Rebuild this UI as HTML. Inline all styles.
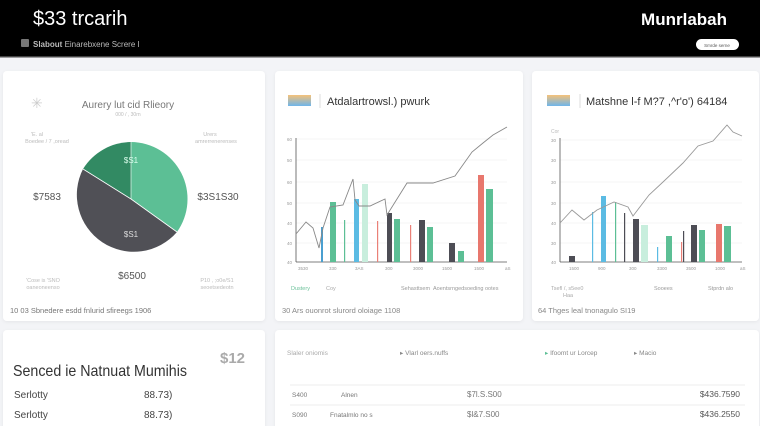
<!DOCTYPE html>
<html><head><meta charset="utf-8"><style>
html,body{margin:0;padding:0;background:#f3f4f7;width:760px;height:426px;overflow:hidden;font-family:"Liberation Sans",sans-serif}
</style></head><body>
<svg width="760" height="426" viewBox="0 0 760 426" xmlns="http://www.w3.org/2000/svg" font-family="Liberation Sans, sans-serif">
<defs>
<linearGradient id="g1" x1="0" y1="0" x2="0" y2="1"><stop offset="0" stop-color="#f5c27a"/><stop offset="1" stop-color="#6fb5ea"/></linearGradient>
<filter id="sh" x="-5%" y="-5%" width="110%" height="110%"><feDropShadow dx="0" dy="1" stdDeviation="1.5" flood-color="#000" flood-opacity="0.06"/></filter>
</defs>
<rect width="760" height="426" fill="#f3f4f7"/>
<rect width="760" height="57" fill="#000"/>
<rect y="56" width="760" height="1.5" fill="#444"/>
<text x="33" y="25" fill="#fff" font-size="20">$33 trcarih</text>
<text x="727" y="25" fill="#fff" font-size="17" font-weight="bold" text-anchor="end">Munrlabah</text>
<rect x="21" y="39" width="8" height="8" fill="#777" rx="1"/>
<text x="33" y="47" fill="#bbb" font-size="8"><tspan font-weight="bold">Slabout</tspan> Einarebxene Screre I</text>
<rect x="696" y="39" width="43" height="11" rx="5.5" fill="#fff"/>
<text x="717" y="47" fill="#555" font-size="4.5" text-anchor="middle">Smrde serne</text>

<rect x="3" y="71" width="262" height="250" rx="4" fill="#fff" filter="url(#sh)"/>
<rect x="275" y="71" width="248" height="250" rx="4" fill="#fff" filter="url(#sh)"/>
<rect x="532" y="71" width="227" height="250" rx="4" fill="#fff" filter="url(#sh)"/>
<rect x="3" y="330" width="262" height="100" rx="4" fill="#fff" filter="url(#sh)"/>
<rect x="275" y="330" width="484" height="100" rx="4" fill="#fff" filter="url(#sh)"/>

<text x="31" y="108" fill="#ccc" font-size="14">✳</text>
<text x="128" y="108" fill="#777" font-size="10" text-anchor="middle">Aurery lut cid Rlieory</text>
<text x="128" y="116" fill="#bbb" font-size="5" text-anchor="middle">000  /  ,  30rn</text>
<text x="37" y="136" fill="#bbb" font-size="5.5" text-anchor="middle">'E. al</text>
<text x="47" y="143" fill="#bbb" font-size="5.5" text-anchor="middle">Boedee / 7 ,oread</text>
<text x="210" y="136" fill="#bbb" font-size="5.5" text-anchor="middle">Urers</text>
<text x="216" y="143" fill="#bbb" font-size="5.5" text-anchor="middle">amrerrenerenses</text>
<path d="M131,199 L131,142 A57,57 0 0 1 177,232 Z" fill="#5cbf95"/>
<path d="M131,199 L177,232 A57,57 0 0 1 83,169 Z" fill="#505056"/>
<path d="M131,199 L83,169 A57,57 0 0 1 131,142 Z" fill="#328a63"/>
<line x1="131" y1="199" x2="177" y2="232" stroke="#fff" stroke-width="0.8"/>
<line x1="131" y1="199" x2="83" y2="169" stroke="#fff" stroke-width="0.8"/>
<line x1="131" y1="199" x2="131" y2="142" stroke="#fff" stroke-width="0.6"/>
<text x="131" y="163" fill="#dfe" font-size="8" text-anchor="middle">$S1</text>
<text x="131" y="237" fill="#ddd" font-size="8" text-anchor="middle">$S1</text>
<text x="47" y="200" fill="#555" font-size="10" text-anchor="middle">$7583</text>
<text x="218" y="200" fill="#555" font-size="10" text-anchor="middle">$3S1S30</text>
<text x="132" y="279" fill="#555" font-size="10" text-anchor="middle">$6500</text>
<text x="43" y="282" fill="#bbb" font-size="5.5" text-anchor="middle">'Cose  is  'SNO</text>
<text x="43" y="289" fill="#bbb" font-size="5.5" text-anchor="middle">oaneoneenso</text>
<text x="217" y="282" fill="#bbb" font-size="5.5" text-anchor="middle">P10  ,  ;o0e/S1</text>
<text x="217" y="289" fill="#bbb" font-size="5.5" text-anchor="middle">seoetsedeotn</text>
<text x="10" y="313" fill="#777" font-size="7.5">10 03 Sbnedere esdd fnlurid sfireegs 1906</text>

<rect x="288" y="95" width="23" height="11" fill="url(#g1)"/>
<line x1="320" y1="94" x2="320" y2="108" stroke="#ddd"/>
<text x="327" y="105" fill="#333" font-size="11">Atdalartrowsl.) pwurk</text>
<g stroke="#eee" stroke-width="0.6">
<line x1="296" y1="139" x2="507" y2="139"/><line x1="296" y1="160" x2="507" y2="160"/><line x1="296" y1="182" x2="507" y2="182"/><line x1="296" y1="203" x2="507" y2="203"/><line x1="296" y1="223" x2="507" y2="223"/><line x1="296" y1="243" x2="507" y2="243"/>
</g>
<g fill="#999" font-size="4.5">
<text x="287" y="141">60</text><text x="287" y="162">50</text><text x="287" y="184">60</text><text x="287" y="205">50</text><text x="287" y="225">40</text><text x="287" y="245">40</text><text x="287" y="264">40</text>
<text x="298" y="270">3530</text><text x="329" y="270">330</text><text x="355" y="270">3AS</text><text x="385" y="270">300</text><text x="413" y="270">3000</text><text x="442" y="270">1500</text><text x="474" y="270">1500</text><text x="505" y="270">aS</text>
</g>
<line x1="296" y1="138" x2="296" y2="262" stroke="#555" stroke-width="0.8"/>
<line x1="296" y1="262" x2="507" y2="262" stroke="#555" stroke-width="0.8"/>
<g>
<rect x="321" y="227" width="2" height="35" fill="#4a9fd0"/>
<rect x="330" y="202" width="6" height="60" fill="#5cbf95"/>
<rect x="344" y="220" width="1.2" height="42" fill="#5cbf95"/>
<rect x="354" y="199" width="5" height="63" fill="#5bbbe3"/>
<rect x="362" y="184" width="6" height="78" fill="#c8eedd"/>
<rect x="377" y="221" width="1.2" height="41" fill="#ea8077"/>
<rect x="387" y="213" width="5" height="49" fill="#4d4d55"/>
<rect x="394" y="219" width="6" height="43" fill="#5cbf95"/>
<rect x="410" y="225" width="1.2" height="37" fill="#ea8077"/>
<rect x="419" y="220" width="6" height="42" fill="#4d4d55"/>
<rect x="427" y="227" width="6" height="35" fill="#5cbf95"/>
<rect x="449" y="243" width="6" height="19" fill="#4d4d55"/>
<rect x="458" y="251" width="6" height="11" fill="#5cbf95"/>
<rect x="478" y="175" width="6" height="87" fill="#e8776d"/>
<rect x="486" y="189" width="7" height="73" fill="#5cbf95"/>
</g>
<polyline fill="none" stroke="#888" stroke-width="0.9" points="296,234 306,222 313,228 319,248 323,228 330,207 343,205 353,179 355,200 359,206 370,206 385,199 387,215 407,183 433,183 455,176 472,152 483,143 493,135 507,127"/>
<text x="291" y="290" fill="#6cc19a" font-size="5.5">Dustery</text>
<text x="326" y="290" fill="#aaa" font-size="5.5">Coy</text>
<text x="401" y="290" fill="#999" font-size="5.5">Sehasttsem</text>
<text x="433" y="290" fill="#999" font-size="5.5">Aoentsrngedsoeding ootes</text>
<text x="282" y="313" fill="#888" font-size="7.5">30 Ars ouonrot slurord oloiage 1108</text>

<rect x="547" y="95" width="23" height="11" fill="url(#g1)"/>
<line x1="580" y1="94" x2="580" y2="108" stroke="#ddd"/>
<text x="586" y="105" fill="#333" font-size="11">Matshne l-f M?7 ,^r'o') 64184</text>
<text x="551" y="133" fill="#bbb" font-size="5">Cor</text>
<g stroke="#eee" stroke-width="0.6">
<line x1="560" y1="140" x2="742" y2="140"/><line x1="560" y1="160" x2="742" y2="160"/><line x1="560" y1="182" x2="742" y2="182"/><line x1="560" y1="203" x2="742" y2="203"/><line x1="560" y1="223" x2="742" y2="223"/><line x1="560" y1="243" x2="742" y2="243"/>
</g>
<g fill="#999" font-size="4.5">
<text x="551" y="142">30</text><text x="551" y="162">30</text><text x="551" y="184">30</text><text x="551" y="205">30</text><text x="551" y="225">40</text><text x="551" y="245">30</text><text x="551" y="264">40</text>
<text x="569" y="270">1500</text><text x="598" y="270">900</text><text x="629" y="270">300</text><text x="657" y="270">3300</text><text x="686" y="270">3500</text><text x="715" y="270">1000</text><text x="740" y="270">aS</text>
</g>
<line x1="560" y1="138" x2="560" y2="262" stroke="#555" stroke-width="0.8"/>
<line x1="560" y1="262" x2="742" y2="262" stroke="#555" stroke-width="0.8"/>
<g>
<rect x="569" y="256" width="6" height="6" fill="#4d4d55"/>
<rect x="592" y="212" width="1.2" height="50" fill="#5bbbe3"/>
<rect x="601" y="196" width="5" height="66" fill="#5bbbe3"/>
<rect x="615" y="202" width="1.2" height="60" fill="#5cbf95"/>
<rect x="624" y="213" width="1.2" height="49" fill="#4d4d55"/>
<rect x="633" y="219" width="6" height="43" fill="#4d4d55"/>
<rect x="641" y="225" width="7" height="37" fill="#c8eedd"/>
<rect x="657" y="247" width="1.2" height="15" fill="#5bbbe3"/>
<rect x="666" y="236" width="6" height="26" fill="#5cbf95"/>
<rect x="681" y="242" width="1.2" height="20" fill="#ea8077"/>
<rect x="683" y="231" width="1.2" height="31" fill="#4d4d55"/>
<rect x="691" y="225" width="6" height="37" fill="#4d4d55"/>
<rect x="699" y="230" width="6" height="32" fill="#5cbf95"/>
<rect x="716" y="224" width="6" height="38" fill="#e8776d"/>
<rect x="724" y="226" width="7" height="36" fill="#5cbf95"/>
</g>
<polyline fill="none" stroke="#999" stroke-width="0.9" points="560,223 572,210 584,220 597,210 614,202 628,207 633,216 649,195 663,182 683,163 698,146 713,141 727,125 733,132 742,136"/>
<text x="551" y="290" fill="#aaa" font-size="5.5">Tsefl /,  s5ee0</text>
<text x="563" y="297" fill="#aaa" font-size="5.5">Haa</text>
<text x="654" y="290" fill="#999" font-size="5.5">Sooees</text>
<text x="708" y="290" fill="#999" font-size="5.5">Stprdn alo</text>
<text x="538" y="313" fill="#888" font-size="7.5">64 Thges leal tnonagulo SI19</text>

<text x="220" y="363" fill="#aaa" font-size="15" font-weight="bold">$12</text>
<text x="13" y="376" fill="#333" font-size="16" textLength="174" lengthAdjust="spacingAndGlyphs">Senced ie Natnuat Mumihis</text>
<text x="14" y="398" fill="#444" font-size="10">Serlotty</text>
<text x="144" y="398" fill="#444" font-size="10">88.73)</text>
<text x="14" y="418" fill="#444" font-size="10">Serlotty</text>
<text x="144" y="418" fill="#444" font-size="10">88.73)</text>

<text x="287" y="355" fill="#aaa" font-size="6.5">Slaler oniomis</text>
<text x="400" y="355" fill="#888" font-size="6.5">▸ Vlarl oers.nuffs</text>
<text x="545" y="355" fill="#888" font-size="6.5"><tspan fill="#5cbf95">▸</tspan> Ifoomt ur Lorcep</text>
<text x="634" y="355" fill="#888" font-size="6.5">▸ Macio</text>
<line x1="290" y1="385" x2="745" y2="385" stroke="#eee"/>
<line x1="290" y1="405" x2="745" y2="405" stroke="#eee"/>
<text x="292" y="397" fill="#777" font-size="6.5">S400</text>
<text x="341" y="397" fill="#777" font-size="6.5">Alnen</text>
<text x="467" y="397" fill="#777" font-size="8">$7l.S.S00</text>
<text x="740" y="397" fill="#555" font-size="8.5" text-anchor="end">$436.7590</text>
<text x="292" y="417" fill="#777" font-size="6.5">S090</text>
<text x="330" y="417" fill="#777" font-size="6.5">Fnatalmlo no s</text>
<text x="467" y="417" fill="#777" font-size="8">$l&amp;7.S00</text>
<text x="740" y="417" fill="#555" font-size="8.5" text-anchor="end">$436.2550</text>
</svg>
</body></html>
